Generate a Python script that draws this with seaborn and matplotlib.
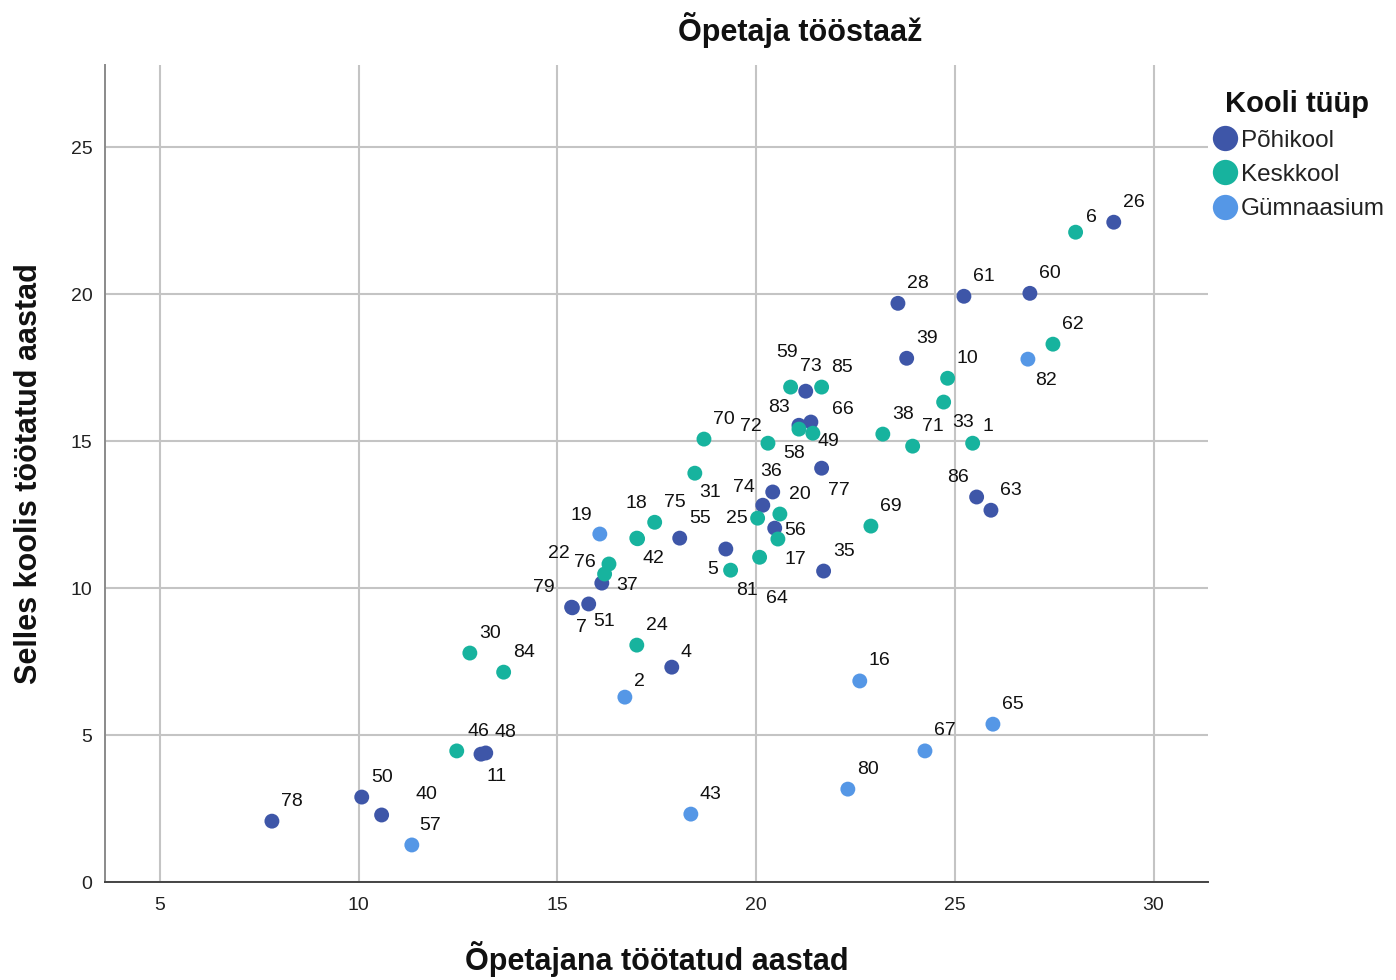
import matplotlib
matplotlib.use("Agg")
import matplotlib.pyplot as plt
import pandas as pd
import seaborn as sns

# case numbers shown next to each point
case_id = [78, 50, 40, 11, 48, 7, 79, 51, 37, 55, 5, 4, 74, 36, 56, 35, 77, 83, 66, 73,
           28, 39, 61, 60, 26, 86, 63,
           46, 30, 84, 24, 22, 76, 18, 42, 75, 31, 70, 81, 64, 25, 20, 17, 72, 58, 49,
           59, 85, 38, 71, 69, 33, 10, 1, 62, 6,
           57, 2, 19, 43, 80, 16, 67, 65, 82]

# years worked as a teacher
years_teacher = [7.82, 10.08, 10.58, 13.08, 13.20, 15.36, 15.38, 15.79, 16.12, 18.08, 19.24,
                 17.88, 20.17, 20.42, 20.47, 21.70, 21.65, 21.08, 21.38, 21.25,
                 23.57, 23.79, 25.23, 26.89, 29.00, 25.55, 25.91,
                 12.47, 12.80, 13.65, 17.00, 16.30, 16.19, 17.00, 17.02, 17.45, 18.46, 18.69,
                 19.36, 20.09, 20.04, 20.60, 20.55, 20.30, 21.08, 21.43,
                 20.87, 21.65, 23.19, 23.94, 22.89, 24.72, 24.82, 25.45, 27.47, 28.04,
                 11.34, 16.70, 16.07, 18.36, 22.31, 22.61, 24.25, 25.96, 26.84]

# years worked in this school
years_school = [2.07, 2.89, 2.28, 4.35, 4.39, 9.35, 9.33, 9.46, 10.17, 11.70, 11.33,
                7.31, 12.82, 13.27, 12.04, 10.58, 14.08, 15.54, 15.65, 16.70,
                19.69, 17.82, 19.93, 20.03, 22.45, 13.10, 12.65,
                4.46, 7.79, 7.14, 8.06, 10.82, 10.48, 11.70, 11.68, 12.24, 13.91, 15.07,
                10.61, 11.05, 12.38, 12.52, 11.67, 14.93, 15.41, 15.27,
                16.84, 16.84, 15.24, 14.83, 12.11, 16.33, 17.14, 14.93, 18.30, 22.11,
                1.26, 6.29, 11.84, 2.31, 3.16, 6.84, 4.46, 5.37, 17.79]

school_type = ["Põhikool"] * 27 + ["Keskkool"] * 29 + ["Gümnaasium"] * 9

type_order = ["Põhikool", "Keskkool", "Gümnaasium"]
type_colors = ["#3e56a8", "#17b39e", "#5597e6"]

# label placement (screen pixels, y down) where it is not the usual upper right
default_offset = (20, -20)
label_offsets = {
    82: (18, 21), 6: (16, -15), 33: (19, 20), 1: (15, -17), 86: (-19, -19),
    77: (17, 22), 72: (-17, -17), 83: (-20, -18), 66: (32, -13), 49: (16, 8),
    58: (-5, 24), 59: (-4, -35), 73: (5, -25), 31: (15, 19), 74: (-19, -18),
    36: (-2, -21), 25: (-21, 0), 56: (20, 2), 17: (17, 20), 5: (-13, 20),
    81: (16, 20), 64: (17, 41), 42: (16, 20), 18: (0, -35), 19: (-19, -19),
    22: (-50, -11), 76: (-20, -11), 37: (25, 2), 79: (-29, -20), 7: (10, 20),
    51: (15, 18), 4: (14, -15), 2: (15, -16), 11: (16, 22), 40: (45, -20),
    57: (18, -19), 46: (22, -19),
}

df = pd.DataFrame({
    "id": case_id,
    "teacher": years_teacher,
    "school": years_school,
    "type": school_type,
})

sns.set_theme(style="white")
plt.rcParams["font.family"] = ["Liberation Sans", "DejaVu Sans"]
plt.rcParams["text.color"] = "#111111"
plt.rcParams["axes.labelcolor"] = "#111111"

fig = plt.figure(figsize=(13.96, 9.80), dpi=100)
ax = fig.add_axes([0.0752, 0.1, 0.7901, 0.8337])

sns.scatterplot(data=df, x="teacher", y="school", hue="type",
                hue_order=type_order, palette=type_colors,
                s=115, linewidth=0, edgecolor="none", ax=ax, legend=True, zorder=3)

for _, row in df.iterrows():
    dx, dy = label_offsets.get(int(row["id"]), default_offset)
    ax.annotate(str(int(row["id"])), (row["teacher"], row["school"]),
                xytext=(dx, -dy), textcoords="offset pixels",
                ha="center", va="center", fontsize=14, color="#111111", zorder=4)

ax.set_xlim(3.62, 31.37)
ax.set_ylim(0, 27.8)
ax.set_xticks([5, 10, 15, 20, 25, 30])
ax.set_yticks([0, 5, 10, 15, 20, 25])
ax.grid(True, color="#c4c4c4", linewidth=1.5, zorder=0)
ax.set_axisbelow(True)
ax.tick_params(axis="both", labelsize=14, colors="#222222", length=0)
ax.tick_params(axis="x", pad=11)
ax.tick_params(axis="y", pad=9)
for side in ["top", "right"]:
    ax.spines[side].set_visible(False)
ax.spines["left"].set_color("#8a8a8a")
ax.spines["bottom"].set_color("#444444")
ax.spines["left"].set_linewidth(1.4)
ax.spines["bottom"].set_linewidth(1.4)

ax.set_xlabel("Õpetajana töötatud aastad", fontsize=22, fontweight="bold", labelpad=19)
ax.set_ylabel("Selles koolis töötatud aastad", fontsize=22, fontweight="bold", labelpad=19)

fig.text(0.573, 0.969, "Õpetaja tööstaaž", ha="center", va="center",
         fontsize=22, fontweight="bold")

handles, labels = ax.get_legend_handles_labels()
ax.get_legend().remove()
leg = fig.legend(handles, labels, loc="upper left", bbox_to_anchor=(0.854, 0.926),
                 frameon=False, title="Kooli tüüp", markerscale=1.7,
                 handletextpad=0.0, labelspacing=0.5, handlelength=1.3,
                 borderpad=0.2, prop={"size": 17.5})
leg.get_title().set_fontweight("bold")
leg.get_title().set_fontsize(21)
for txt in leg.get_texts():
    txt.set_color("#222222")

fig.savefig("out.png", dpi=100)
